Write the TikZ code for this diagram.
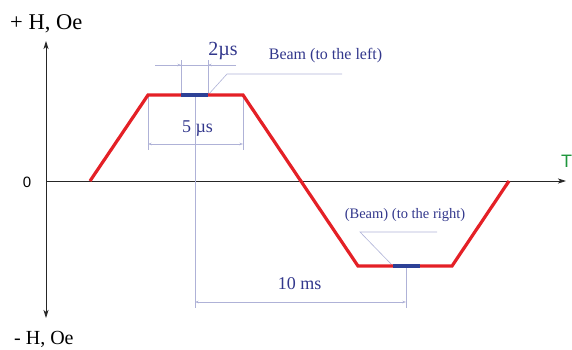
\documentclass[tikz,border=0pt]{standalone}
\usepackage{fontspec}
\setmainfont{Liberation Serif}
\newfontfamily\arialfont{Liberation Sans}
\usetikzlibrary{arrows.meta}
\definecolor{wave}{RGB}{228,32,38}
\definecolor{beam}{RGB}{45,65,150}
\definecolor{dimc}{RGB}{175,178,215}
\definecolor{lbl}{RGB}{50,55,140}
\definecolor{tgreen}{RGB}{30,150,60}
\begin{document}
\begin{tikzpicture}[x=1pt,y=-1pt,
  axis/.style={line width=0.8pt, draw=black!85, -{Stealth[length=8pt,width=5pt,inset=2pt]}},
  wavepath/.style={draw=wave, line width=3.2pt, line join=miter},
  beamseg/.style={draw=beam, line width=4pt},
  dimline/.style={draw=dimc, line width=0.6pt},
  dimtip/.style={dimline, -{Stealth[length=3.5pt,width=2.5pt]}},
  dimboth/.style={dimline, {Stealth[length=3.5pt,width=2.5pt]}-{Stealth[length=3.5pt,width=2.5pt]}},
  lbltext/.style={text=lbl, inner sep=0pt, anchor=base},
  axtext/.style={text=black, inner sep=0pt, anchor=base west},
]
\useasboundingbox (0,0) rectangle (572,349);
% axes
\coordinate (o) at (46,181);
\coordinate (ytop) at (46,41);
\coordinate (ybot) at (46,318);
\coordinate (xend) at (566,181);
\draw[axis] (o) -- (ytop);
\draw[axis] (o) -- (ybot);
\draw[axis] (o) -- (xend);
% dimension / construction lines
\coordinate (c1) at (181,95);
\coordinate (c2) at (208,95);
\coordinate (e1) at (181,60);
\coordinate (e2) at (208,60);
\coordinate (d2a) at (155,65);
\coordinate (d2b) at (236,65);
\coordinate (d2l) at (181,65);
\coordinate (d2r) at (208,65);
\draw[dimline] (c1) -- (e1);
\draw[dimline] (c2) -- (e2);
\draw[dimline] (d2a) -- (d2b);
\draw[dimtip] (d2a) -- (d2l);
\draw[dimtip] (d2b) -- (d2r);
% 5 us
\coordinate (p1) at (148,95);
\coordinate (p2) at (243,95);
\coordinate (p1b) at (148,150);
\coordinate (p2b) at (243,150);
\coordinate (d5a) at (148,144);
\coordinate (d5b) at (243,144);
\draw[dimline] (p1) -- (p1b);
\draw[dimline] (p2) -- (p2b);
\draw[dimboth] (d5a) -- (d5b);
% center & 10 ms
\coordinate (ctop) at (195,95);
\coordinate (cbot) at (195,308);
\coordinate (r1) at (406,266);
\coordinate (r1b) at (406,308);
\coordinate (d10a) at (195,302);
\coordinate (d10b) at (406,302);
\draw[dimline] (ctop) -- (cbot);
\draw[dimline] (r1) -- (r1b);
\draw[dimboth] (d10a) -- (d10b);
% leaders
\coordinate (l1a) at (227,74);
\coordinate (l1b) at (342,74);
\draw[dimline] (c2) -- (l1a) -- (l1b);
\coordinate (b1) at (393,266);
\coordinate (b2) at (420,266);
\coordinate (l2a) at (360,232);
\coordinate (l2b) at (437,232);
\draw[dimline] (b1) -- (l2a) -- (l2b);
% waveform
\coordinate (w0) at (90,181);
\coordinate (w3) at (358,266);
\coordinate (w4) at (452,266);
\coordinate (w5) at (509,181);
\draw[wavepath] (w0) -- (p1) -- (p2) -- (w3) -- (w4) -- (w5);
\draw[beamseg] (c1) -- (c2);
\draw[beamseg] (b1) -- (b2);
% labels
\node[axtext, font=\fontsize{22.5}{24}\selectfont] (hplus) at (10,29) {+ H, Oe};
\node[axtext, font=\fontsize{20}{22}\selectfont] (hminus) at (14,344) {- H, Oe};
\node[inner sep=0pt, font=\arialfont\fontsize{15}{17}\selectfont] (zero) at (27,182.5) {0};
\node[inner sep=0pt, text=tgreen, font=\arialfont\fontsize{18}{20}\selectfont] (tlab) at (566.5,161.5) {T};
\node[lbltext, font=\fontsize{20}{22}\selectfont] (l2us) at (223,55) {2µs};
\node[lbltext, font=\fontsize{16}{18}\selectfont] (lbeam1) at (325.5,59) {Beam (to the left)};
\node[lbltext, font=\fontsize{18}{20}\selectfont] (l5us) at (197.5,132) {5 µs};
\node[lbltext, font=\fontsize{18}{20}\selectfont] (l10ms) at (299.5,289) {10 ms};
\node[lbltext, font=\fontsize{14.5}{16}\selectfont] (lbeam2) at (405,218) {(Beam) (to the right)};
\end{tikzpicture}
\end{document}
